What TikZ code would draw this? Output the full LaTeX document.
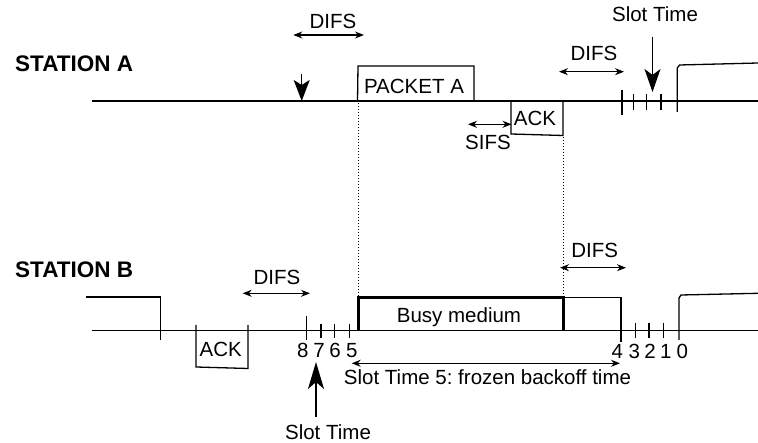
\documentclass[tikz,border=0pt]{standalone}
\usepackage{fontspec}
\setmainfont{Liberation Sans}
\usepackage{tikz}
\usetikzlibrary{arrows.meta, positioning, calc}
\frenchspacing

\tikzstyle{station} = [font=\fontsize{22.5}{26}\selectfont\bfseries, anchor=base west, inner sep=0pt]
\tikzstyle{lbl} = [font=\fontsize{20.5}{24}\selectfont, anchor=base, inner sep=0pt]
\tikzstyle{wave} = [line width=1.3pt, line join=miter]
\tikzstyle{busy} = [line width=2.8pt]
\tikzstyle{guide} = [dotted, line width=1pt]
\tikzstyle{span} = [line width=1.2pt, {Stealth[length=9pt,width=7pt]}-{Stealth[length=9pt,width=7pt]}]
\tikzstyle{bigarrow} = [line width=1.5pt, -{Stealth[length=23pt,width=16pt,inset=6pt]}]

\begin{document}
\begin{tikzpicture}[x=1pt, y=-1pt]
    \useasboundingbox (0,0) rectangle (758,443);

    % Estaciones
    \node (staA) [station] at (15,71.7) {STATION A};
    \node (staB) [station] at (15,277.7) {STATION B};

    % --- Station A ---
    \draw [wave] (92,101) -- (758,101);
    % Packet A
    \draw [wave] (357.5,101) -- (358,66) -- (474,66) -- (474,101);
    \node (pkt) [lbl] at (414,93.5) {PACKET A};
    % ACK
    \draw [wave] (511,101) -- (511,134) -- (563,135.5) -- (563,101);
    \node (ackA) [lbl] at (535,126) {ACK};
    % Slots
    \draw [wave] (622,90) -- (622,115);
    \foreach \x in {633.3,646.7,661}
        \draw [wave] (\x,94) -- (\x,110.5);
    \draw [wave] (677.3,112) -- (677.3,68) -- (679.5,65) -- (758,63);

    % DIFS / SIFS
    \coordinate (difsA1s) at (293.3,35);
    \coordinate (difsA1e) at (364,35);
    \draw [span] (difsA1s) -- (difsA1e);
    \node (difsA1) [lbl] at (333,28.5) {DIFS};

    \coordinate (sifsS) at (468,124.3);
    \coordinate (sifsE) at (511.5,124.3);
    \draw [span] (sifsS) -- (sifsE);
    \node (sifs) [lbl] at (488,150) {SIFS};

    \coordinate (difsA2s) at (559,71.7);
    \coordinate (difsA2e) at (624,71.7);
    \draw [span] (difsA2s) -- (difsA2e);
    \node (difsA2) [lbl] at (594,61) {DIFS};

    % Flechas A
    \coordinate (downAs) at (301.7,74);
    \coordinate (downAe) at (301.7,101);
    \draw [bigarrow, -{Stealth[length=21pt,width=16pt,inset=5pt]}] (downAs) -- (downAe);

    \node (slotA) [lbl] at (655,21.7) {Slot Time};
    \coordinate (slotAs) at (652.5,36.7);
    \coordinate (slotAe) at (652.5,92);
    \draw [bigarrow] (slotAs) -- (slotAe);

    % --- Station B ---
    \draw [wave] (92,330.5) -- (758,330.5);
    \draw [wave] (86,297) -- (160.5,297) -- (160.5,340);
    % ACK
    \draw [wave] (196,325) -- (196,367) -- (248,368.5) -- (248,325);
    \node (ackB) [lbl] at (220.7,356.7) {ACK};
    % Backoff 8..5
    \draw [wave] (306.7,316.5) -- (306.7,340);
    \foreach \x in {321,334.7,349.3}
        \draw [wave] (\x,324) -- (\x,338.5);
    \foreach \n/\x in {8/302.7,7/319,6/335,5/351.7}
        \node (numB\n) [lbl] at (\x,357.3) {\n};
    % Busy medium
    \draw [busy] (358.3,330.5) -- (358.3,297.3) -- (563.3,297.3) -- (563.3,330.5);
    \node (medium) [lbl] at (459,322.3) {Busy medium};
    \draw [wave] (563.3,297.3) -- (621,297.3) -- (621,342);
    % Backoff 4..0
    \foreach \x in {635.7,649,663.3}
        \draw [wave] (\x,322.7) -- (\x,338.3);
    \foreach \n/\x in {4/617.3,3/634.3,2/650,1/665.7,0/682.3}
        \node (numB\n) [lbl] at (\x,358.5) {\n};
    \draw [wave] (679,340) -- (679,298) -- (681,295) -- (758,293.3);

    % DIFS
    \coordinate (difsB1s) at (242.7,293.3);
    \coordinate (difsB1e) at (310,293.3);
    \draw [span] (difsB1s) -- (difsB1e);
    \node (difsB1) [lbl] at (277,284.3) {DIFS};

    \coordinate (difsB2s) at (560,267.7);
    \coordinate (difsB2e) at (626,267.7);
    \draw [span] (difsB2s) -- (difsB2e);
    \node (difsB2) [lbl] at (594.7,257.3) {DIFS};

    % Frozen backoff
    \coordinate (frzS) at (351.7,363.3);
    \coordinate (frzE) at (620,363.3);
    \draw [span] (frzS) -- (frzE);
    \node (frz) [lbl] at (487.5,385) {Slot Time 5: frozen backoff time};

    \coordinate (slotBs) at (316,416.7);
    \coordinate (slotBe) at (316,362);
    \draw [bigarrow, -{Stealth[length=27pt,width=16pt,inset=7pt]}] (slotBs) -- (slotBe);
    \node (slotB) [lbl] at (328,440) {Slot Time};

    % Lineas guia
    \draw [guide] (358.3,103) -- (358.3,296);
    \draw [guide] (563.3,137) -- (563.3,296);

\end{tikzpicture}
\end{document}
